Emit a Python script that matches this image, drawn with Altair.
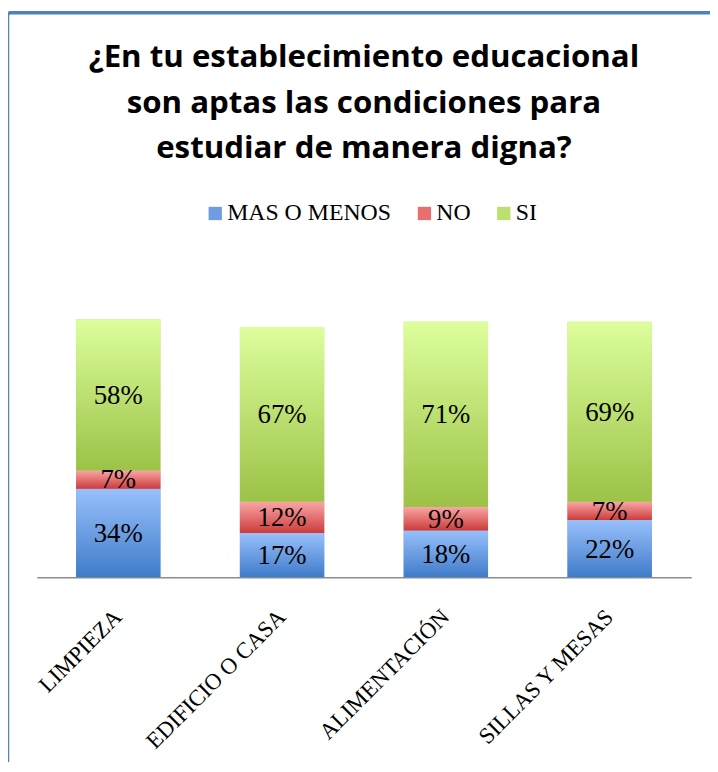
import altair as alt
import pandas as pd

# ---- data ----
categories = ["LIMPIEZA", "EDIFICIO O CASA", "ALIMENTACIÓN", "SILLAS Y MESAS"]
series = ["MAS O MENOS", "NO", "SI"]
mas_o_menos = [34, 17, 18, 22]
no = [7, 12, 9, 7]
si = [58, 67, 71, 69]

rows = []
for i, cat in enumerate(categories):
    for j, (s, vals) in enumerate(zip(series, [mas_o_menos, no, si])):
        rows.append({"cat": cat, "serie": s, "orden": j, "valor": vals[i]})
df = pd.DataFrame(rows)

flat_colors = ["#6F9DE3", "#E86F6F", "#BCE06F"]
gradients = {
    "MAS O MENOS": ("#98C0FB", "#3F7BC9"),
    "NO": ("#FAA6A6", "#CC3C3C"),
    "SI": ("#DDFE9C", "#9CC247"),
}

SERIF = "Liberation Serif"

x_enc = alt.X(
    "cat:N",
    sort=categories,
    scale=alt.Scale(paddingInner=0.485, paddingOuter=0.24),
    axis=alt.Axis(
        title=None,
        labelAngle=-45,
        labelAlign="right",
        labelBaseline="middle",
        labelFont=SERIF,
        labelFontSize=23,
        labelColor="#000000",
        labelPadding=36,
        ticks=False,
        domainColor="#8C8C8C",
        domainWidth=1.5,
        labelLimit=300,
    ),
)
y_scale = alt.Scale(domain=[0, 100])

base = alt.Chart(df).transform_stack(
    stack="valor",
    groupby=["cat"],
    sort=[alt.SortField("orden", order="ascending")],
    as_=["y0", "y1"],
)

flat = base.mark_bar().encode(
    x=x_enc,
    y=alt.Y("y0:Q", scale=y_scale, axis=None),
    y2="y1:Q",
    color=alt.Color(
        "serie:N",
        sort=series,
        scale=alt.Scale(domain=series, range=flat_colors),
        legend=alt.Legend(
            title=None,
            orient="none",
            direction="horizontal",
            legendX=168,
            legendY=-116,
            symbolType="square",
            symbolSize=180,
            symbolStrokeWidth=0,
            labelFont=SERIF,
            labelFontSize=24,
            labelColor="#000000",
            labelOffset=0,
            labelLimit=400,
            columnPadding=21,
            padding=0,
        ),
    ),
)

grad_layers = []
for s in series:
    top, bottom = gradients[s]
    g = base.transform_filter(alt.datum.serie == s).mark_bar(
        color=alt.Gradient(
            gradient="linear",
            stops=[
                alt.GradientStop(color=top, offset=0),
                alt.GradientStop(color=bottom, offset=1),
            ],
            x1=0, x2=0, y1=0, y2=1,
        )
    ).encode(
        x=alt.X("cat:N", sort=categories),
        y=alt.Y("y0:Q", scale=y_scale),
        y2="y1:Q",
    )
    grad_layers.append(g)

labels = base.transform_calculate(
    mid="(datum.y0 + datum.y1) / 2",
    txt="datum.valor + '%'",
).mark_text(font=SERIF, fontSize=27, color="#000000", baseline="middle", dy=1).encode(
    x=alt.X("cat:N", sort=categories),
    y=alt.Y("mid:Q", scale=y_scale),
    text="txt:N",
)

border = alt.Chart(alt.Data(values=[{}])).mark_rect(
    fill=None, filled=False, stroke="#4F81BD", strokeWidth=3.5, cornerRadius=3, clip=False
).encode(
    x=alt.value(-29.5),
    x2=alt.value(720),
    y=alt.value(-306.5),
    y2=alt.value(480),
)

chart = alt.layer(flat, *grad_layers, labels, border).properties(
    width=660,
    height=263,
    title=alt.TitleParams(
        text=[
            "¿En tu establecimiento educacional",
            "son aptas las condiciones para",
            "estudiar de manera digna?",
        ],
        font="Open Sans",
        fontSize=31.5,
        fontWeight="bold",
        color="#000000",
        lineHeight=46,
        anchor="middle",
        offset=-155,
    ),
    padding={"left": 29, "top": 308, "right": 19, "bottom": 183},
    autosize=alt.AutoSizeParams(type="none"),
).configure_view(stroke=None)

chart.save("out.html", embed_options={"renderer": "svg", "actions": False})
